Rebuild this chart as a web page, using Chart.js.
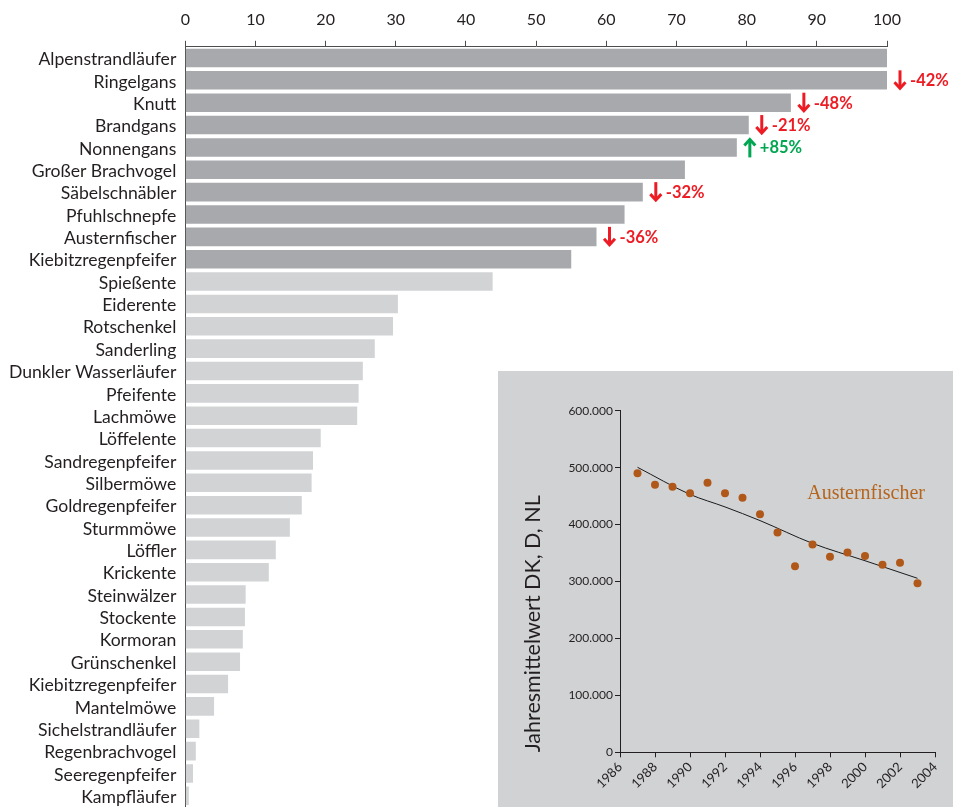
<!DOCTYPE html>
<html><head><meta charset="utf-8">
<script src="https://cdn.jsdelivr.net/npm/chart.js@4.4.1/dist/chart.umd.min.js"></script>
<style>
html,body{margin:0;padding:0;background:#fff;overflow:hidden}
#wrap{position:relative;width:965px;height:807px}
#main{position:absolute;left:0;top:0}
#insetBox{position:absolute;left:498px;top:371px;width:455px;height:436px;background:#d1d2d4}
#inset{position:absolute;left:0;top:0}
</style></head><body>
<div id="wrap">
<canvas id="main" width="965" height="807"></canvas>
<div id="insetBox"><canvas id="inset" width="455" height="436"></canvas></div>
</div>
<script>
// ---- main bar chart data ----
const species = ['Alpenstrandläufer','Ringelgans','Knutt','Brandgans','Nonnengans','Großer Brachvogel','Säbelschnäbler','Pfuhlschnepfe','Austernfischer','Kiebitzregenpfeifer','Spießente','Eiderente','Rotschenkel','Sanderling','Dunkler Wasserläufer','Pfeifente','Lachmöwe','Löffelente','Sandregenpfeifer','Silbermöwe','Goldregenpfeifer','Sturmmöwe','Löffler','Krickente','Steinwälzer','Stockente','Kormoran','Grünschenkel','Kiebitzregenpfeifer','Mantelmöwe','Sichelstrandläufer','Regenbrachvogel','Seeregenpfeifer','Kampfläufer'];
const shares = [100,100,86.3,80.3,78.6,71.2,65.2,62.6,58.6,55.0,43.8,30.3,29.6,27.0,25.3,24.7,24.5,19.3,18.2,18.0,16.6,14.9,12.9,11.9,8.6,8.5,8.2,7.8,6.1,4.1,2.0,1.5,1.1,0.5];
const highlightCount = 10;
const xTicks = [0,10,20,30,40,50,60,70,80,90,100];
const changeSpecies = ['Ringelgans','Knutt','Brandgans','Nonnengans','Säbelschnäbler','Austernfischer'];
const changeValues = [-42,-48,-21,85,-32,-36];

// ---- inset data ----
const years = [1987,1988,1989,1990,1991,1992,1993,1994,1995,1996,1997,1998,1999,2000,2001,2002,2003];
const counts = [490000,470000,466500,455000,473600,455000,447000,418000,386000,327000,365000,343600,351000,345000,329500,333000,297000];
const trendYears = [1987,1990,1992,1994,1997,2000,2003];
const trendValues = [500600,453000,431000,407000,367000,336500,305600];
const insetTitle = 'Jahresmittelwert DK, D, NL';
const insetLabel = 'Austernfischer';

const TXT = '#231f20';
const AXIS = '#4d4d4d';

const changePlugin = {
  id: 'changes',
  afterDatasetsDraw(chart) {
    const ctx = chart.ctx;
    const meta = chart.getDatasetMeta(0);
    changeSpecies.forEach((name, k) => {
      const i = species.indexOf(name);
      const bar = meta.data[i];
      const v = changeValues[k];
      const up = v > 0;
      const col = up ? '#00a651' : '#ed1c24';
      const ax = bar.x + 13, y = bar.y;
      ctx.save();
      ctx.strokeStyle = col; ctx.fillStyle = col;
      ctx.lineWidth = 3; ctx.lineCap = 'butt'; ctx.lineJoin = 'miter';
      ctx.beginPath();
      if (up) { ctx.moveTo(ax, y + 10); ctx.lineTo(ax, y - 7); }
      else { ctx.moveTo(ax, y - 10); ctx.lineTo(ax, y + 7); }
      ctx.stroke();
      ctx.beginPath();
      if (up) { ctx.moveTo(ax - 5.5, y - 2); ctx.lineTo(ax, y - 8); ctx.lineTo(ax + 5.5, y - 2); }
      else { ctx.moveTo(ax - 5.5, y + 2); ctx.lineTo(ax, y + 8); ctx.lineTo(ax + 5.5, y + 2); }
      ctx.stroke();
      ctx.font = 'bold 16.5px Lato';
      ctx.textBaseline = 'middle'; ctx.textAlign = 'left';
      ctx.fillText((up ? '+' : '') + v + '%', bar.x + 23, y + 0.5);
      ctx.restore();
    });
  }
};

new Chart(document.getElementById('main'), {
  type: 'bar',
  data: {
    labels: species,
    datasets: [{
      data: shares,
      backgroundColor: c => c.dataIndex < highlightCount ? '#a7a9ac' : '#d1d3d4',
      borderWidth: 0,
      barPercentage: 0.83,
      categoryPercentage: 1
    }]
  },
  options: {
    indexAxis: 'y', responsive: false, animation: false,
    layout: { padding: { left: 0, right: 78, top: 0, bottom: 0 } },
    plugins: { legend: { display: false }, tooltip: { enabled: false } },
    scales: {
      x: {
        position: 'top', min: 0, max: 100,
        afterBuildTicks: s => { s.ticks = xTicks.map(v => ({ value: v })); },
        ticks: { color: TXT, font: { family: 'Lato', size: 16 }, padding: 11 },
        grid: { drawOnChartArea: false, drawTicks: true, tickLength: 6, color: AXIS },
        border: { color: AXIS },
        afterFit(s) { s.height = 46.8; s.paddingLeft = 0; s.paddingRight = 0; }
      },
      y: {
        ticks: { autoSkip: false, color: TXT, font: { family: 'Lato', size: 17.6 }, padding: 9, labelOffset: 1.5 },
        grid: { drawOnChartArea: false, drawTicks: false },
        border: { color: AXIS },
        afterFit(s) { s.width = 185.3; s.paddingTop = 0; s.paddingBottom = 0; }
      }
    }
  },
  plugins: [changePlugin]
});

const fmt = v => String(v).replace(/\B(?=(\d{3})+(?!\d))/g, '.');

const labelPlugin = {
  id: 'insetLabel',
  afterDatasetsDraw(chart) {
    const ctx = chart.ctx;
    const xs = chart.scales.x, ys = chart.scales.y;
    ctx.save();
    ctx.font = '20px "Liberation Serif"';
    ctx.fillStyle = '#b5651d';
    ctx.textAlign = 'right'; ctx.textBaseline = 'middle';
    ctx.fillText(insetLabel, xs.right - 10, ys.getPixelForValue(455000));
    ctx.restore();
  }
};

new Chart(document.getElementById('inset'), {
  type: 'scatter',
  data: {
    datasets: [
      { data: years.map((x, i) => ({ x, y: counts[i] })), backgroundColor: '#b0581a', borderWidth: 0, pointRadius: 4 },
      { type: 'line', data: trendYears.map((x, i) => ({ x, y: trendValues[i] })), borderColor: '#1a1a1a', borderWidth: 1, pointRadius: 0, cubicInterpolationMode: 'monotone', fill: false }
    ]
  },
  options: {
    responsive: false, animation: false,
    layout: { padding: { left: 0, right: 18, top: 39.7, bottom: 0 } },
    plugins: { legend: { display: false }, tooltip: { enabled: false } },
    scales: {
      x: {
        type: 'linear', min: 1986, max: 2004,
        ticks: { stepSize: 2, maxRotation: 45, minRotation: 45, color: TXT, font: { family: 'Lato', size: 13 }, padding: 2, callback: v => String(v) },
        grid: { drawOnChartArea: false, tickLength: 5, color: TXT },
        border: { color: TXT },
        afterFit(s) { s.height = 54.7; s.paddingLeft = 0; s.paddingRight = 0; }
      },
      y: {
        min: 0, max: 600000,
        ticks: { stepSize: 100000, color: TXT, font: { family: 'Lato', size: 12 }, padding: 2, callback: v => fmt(v) },
        grid: { drawOnChartArea: false, tickLength: 5, color: TXT },
        border: { color: TXT },
        title: { display: true, text: insetTitle, align: 'start', color: TXT, font: { family: 'Lato', size: 21.5 }, padding: { top: 22, bottom: 4 } },
        afterFit(s) { s.width = 122; s.paddingTop = 0; s.paddingBottom = 0; }
      }
    }
  },
  plugins: [labelPlugin]
});
</script>
</body></html>
